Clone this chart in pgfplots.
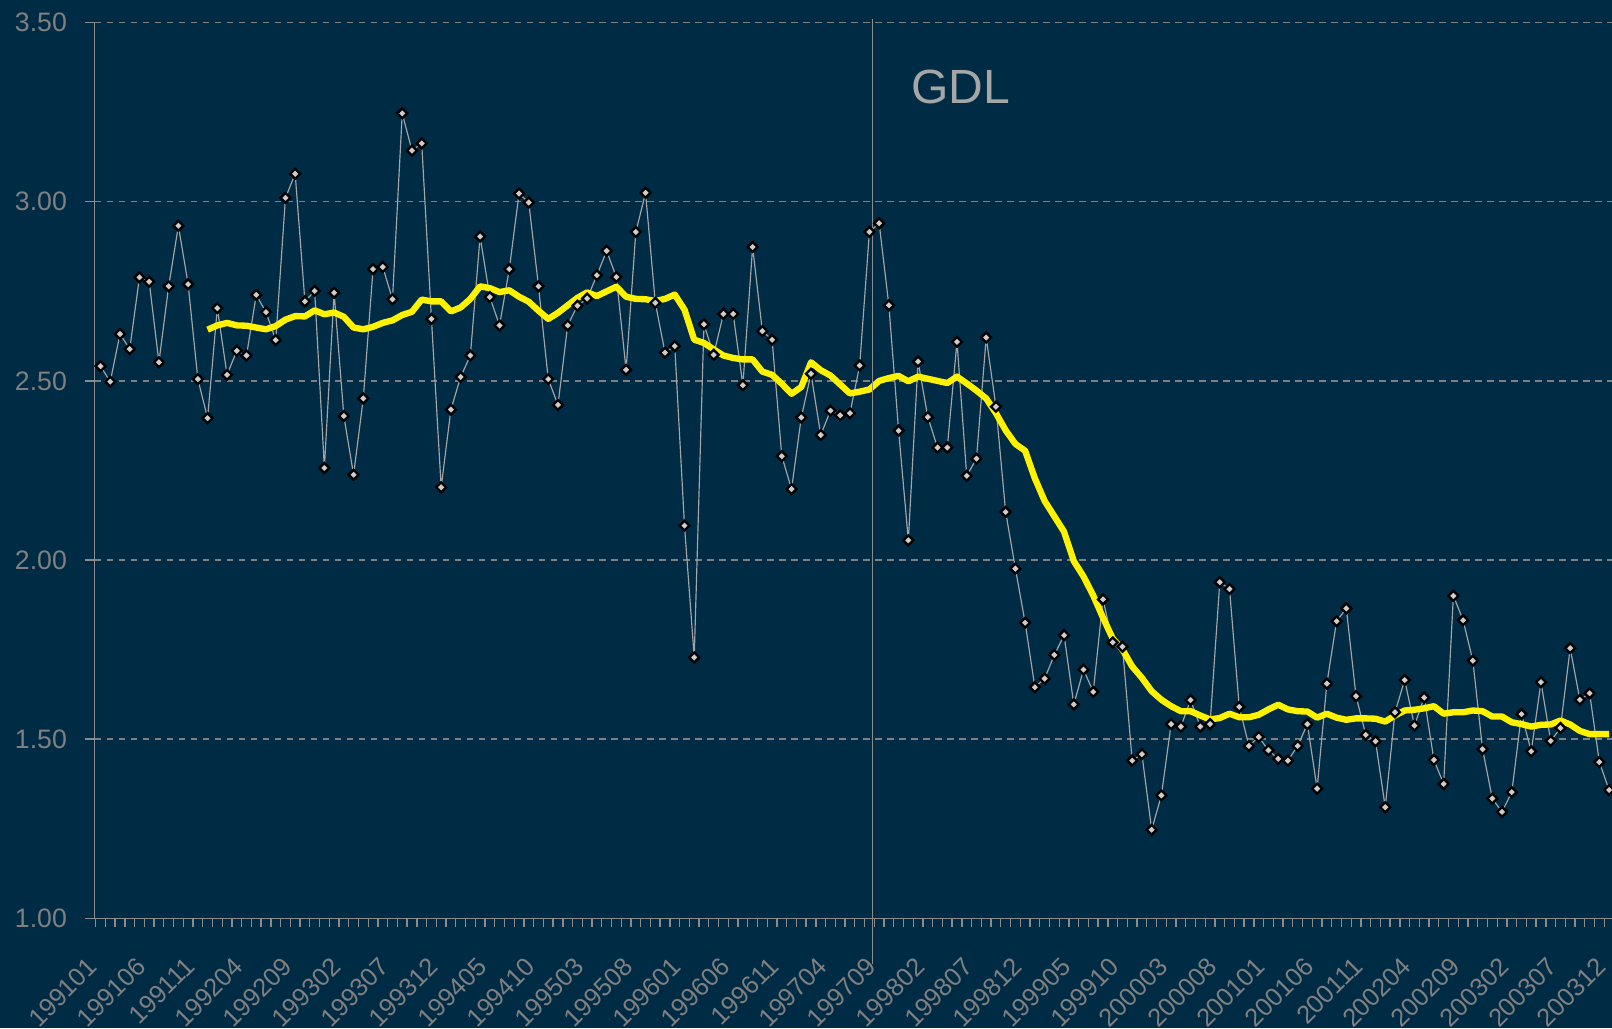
\documentclass[border=0pt]{standalone}
\usepackage{pgfplots}
\usepackage{pgfplotstable}
\pgfplotsset{compat=1.18}
\usepackage{fontspec}
\setmainfont{Liberation Sans}

\definecolor{bgnavy}{RGB}{0,43,69}
\definecolor{gridgray}{RGB}{128,128,128}
\definecolor{axisgray}{RGB}{140,140,140}
\definecolor{labelgray}{RGB}{128,128,128}
\definecolor{gdlgray}{RGB}{166,166,166}
\definecolor{linegray}{RGB}{165,165,165}
\definecolor{markfill}{RGB}{205,205,205}

% monthly values, j = 0 is 1991-01
\pgfplotstableread{
j v
0 2.541
1 2.498
2 2.631
3 2.589
4 2.789
5 2.777
6 2.552
7 2.764
8 2.933
9 2.770
10 2.505
11 2.396
12 2.703
13 2.517
14 2.584
15 2.571
16 2.740
17 2.692
18 2.614
19 3.011
20 3.078
21 2.722
22 2.751
23 2.257
24 2.746
25 2.402
26 2.238
27 2.451
28 2.812
29 2.818
30 2.728
31 3.247
32 3.143
33 3.163
34 2.673
35 2.203
36 2.420
37 2.511
38 2.571
39 2.903
40 2.734
41 2.655
42 2.812
43 3.023
44 2.998
45 2.764
46 2.505
47 2.433
48 2.655
49 2.710
50 2.730
51 2.795
52 2.863
53 2.790
54 2.531
55 2.916
56 3.025
57 2.718
58 2.579
59 2.597
60 2.096
61 1.728
62 2.658
63 2.573
64 2.687
65 2.687
66 2.488
67 2.874
68 2.639
69 2.615
70 2.290
71 2.198
72 2.398
73 2.520
74 2.349
75 2.417
76 2.404
77 2.410
78 2.543
79 2.916
80 2.940
81 2.711
82 2.361
83 2.055
84 2.554
85 2.399
86 2.314
87 2.314
88 2.609
89 2.235
90 2.283
91 2.621
92 2.428
93 2.134
94 1.976
95 1.825
96 1.645
97 1.669
98 1.735
99 1.790
100 1.597
101 1.694
102 1.632
103 1.890
104 1.770
105 1.758
106 1.440
107 1.458
108 1.247
109 1.343
110 1.542
111 1.535
112 1.609
113 1.535
114 1.542
115 1.938
116 1.919
117 1.590
118 1.481
119 1.506
120 1.469
121 1.445
122 1.440
123 1.481
124 1.542
125 1.362
126 1.655
127 1.829
128 1.865
129 1.620
130 1.512
131 1.494
132 1.310
133 1.575
134 1.665
135 1.538
136 1.616
137 1.442
138 1.375
139 1.900
140 1.832
141 1.719
142 1.472
143 1.334
144 1.297
145 1.352
146 1.570
147 1.466
148 1.659
149 1.495
150 1.531
151 1.754
152 1.610
153 1.628
154 1.436
155 1.358
}\monthly

% 12-month moving average
\pgfplotstableread{
j v
11 2.643
12 2.655
13 2.662
14 2.655
15 2.654
16 2.649
17 2.644
18 2.653
19 2.671
20 2.681
21 2.680
22 2.697
23 2.686
24 2.691
25 2.679
26 2.649
27 2.644
28 2.651
29 2.662
30 2.669
31 2.684
32 2.693
33 2.727
34 2.722
35 2.722
36 2.694
37 2.705
38 2.729
39 2.764
40 2.759
41 2.748
42 2.753
43 2.735
44 2.721
45 2.696
46 2.673
47 2.690
48 2.711
49 2.732
50 2.747
51 2.737
52 2.750
53 2.763
54 2.735
55 2.729
56 2.728
57 2.723
58 2.729
59 2.741
60 2.699
61 2.615
62 2.606
63 2.588
64 2.571
65 2.564
66 2.560
67 2.560
68 2.526
69 2.517
70 2.492
71 2.464
72 2.483
73 2.552
74 2.530
75 2.515
76 2.490
77 2.465
78 2.470
79 2.476
80 2.500
81 2.508
82 2.514
83 2.499
84 2.512
85 2.506
86 2.500
87 2.494
88 2.512
89 2.493
90 2.473
91 2.451
92 2.410
93 2.362
94 2.324
95 2.305
96 2.228
97 2.165
98 2.122
99 2.079
100 1.997
101 1.954
102 1.901
103 1.839
104 1.781
105 1.750
106 1.703
107 1.671
108 1.634
109 1.610
110 1.592
111 1.578
112 1.578
113 1.566
114 1.555
115 1.559
116 1.571
117 1.561
118 1.561
119 1.568
120 1.583
121 1.596
122 1.583
123 1.578
124 1.577
125 1.560
126 1.571
127 1.560
128 1.554
129 1.558
130 1.558
131 1.557
132 1.549
133 1.566
134 1.580
135 1.582
136 1.586
137 1.592
138 1.571
139 1.575
140 1.575
141 1.580
142 1.578
143 1.563
144 1.563
145 1.547
146 1.542
147 1.535
148 1.540
149 1.541
150 1.552
151 1.541
152 1.523
153 1.514
154 1.514
155 1.514
}\movavg

\begin{document}
\begin{tikzpicture}
\fill[bgnavy] (-28.4pt,-33pt) rectangle (455.07pt,275.4pt);
\begin{axis}[
    scale only axis,
    width=455.07pt,
    height=268.6pt,
    xmin=-0.6, xmax=155.3,
    ymin=1, ymax=3.5,
    clip=false,
    axis lines=left,
    axis line style={-, draw=axisgray, line width=0.4pt},
    ytick={1,1.5,...,3.5},
    xtick={0,5,...,155},
    xticklabels={199101,199106,199111,199204,199209,199302,199307,199312,
        199405,199410,199503,199508,199601,199606,199611,199704,199709,
        199802,199807,199812,199905,199910,200003,200008,200101,200106,
        200111,200204,200209,200302,200307,200312},
    minor xtick={-0.5,0.5,...,155.5},
    tick align=outside,
    major tick length=3pt,
    minor tick length=2.5pt,
    x tick style={draw=none},
    minor x tick style={draw=axisgray, line width=0.4pt},
    y tick style={draw=axisgray, line width=0.4pt},
    ymajorgrids,
    major grid style={draw=gridgray, line width=0.4pt, dash pattern=on 2pt off 1.6pt},
    yticklabel style={/pgf/number format/.cd, fixed, fixed zerofill, precision=2,
        assume math mode=true, /tikz/.cd, font=\fontsize{8}{9}\selectfont,
        text=labelgray, xshift=-1.8pt},
    xticklabel style={xshift=-2.2pt, yshift=-10pt, rotate=45, anchor=east,
        inner sep=0pt, font=\fontsize{7.6}{8}\selectfont, text=labelgray},
]
\addplot[linegray, line width=0.35pt, mark=square*,
    mark size=1.05pt,
    mark options={rotate=45, fill=markfill, draw=black, line width=0.7pt, solid}]
    table[x=j, y=v] {\monthly};
\addplot[yellow, line width=1.9pt, line join=round, no marks]
    table[x=j, y=v] {\movavg};
\draw[axisgray, line width=0.45pt] (axis cs:79.3,3.511) -- (axis cs:79.3,0.872);
\node[text=gdlgray, font=\fontsize{14.4}{15}\selectfont] at (axis cs:88.4,3.32) {GDL};
\end{axis}
\pgfresetboundingbox
\path[use as bounding box] (-28.4pt,-33pt) rectangle (455.07pt,275.4pt);
\end{tikzpicture}
\end{document}
